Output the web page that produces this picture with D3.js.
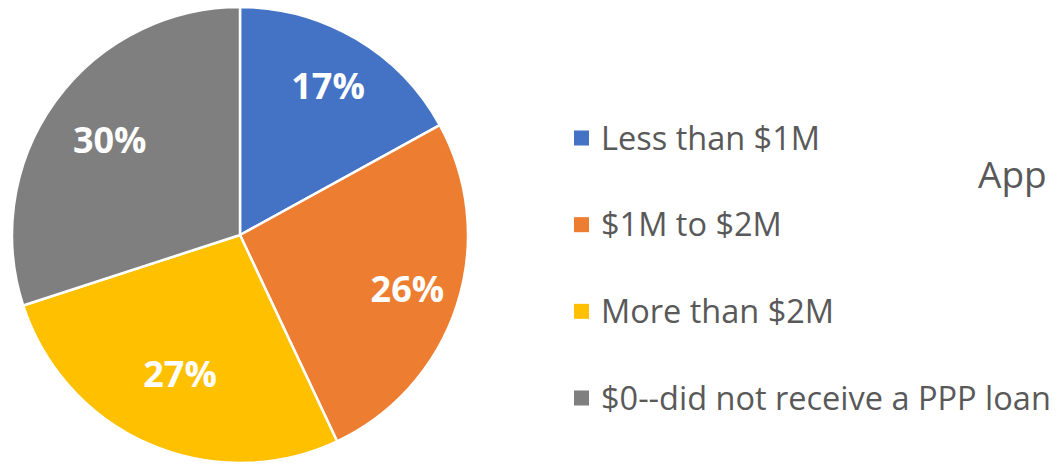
<!DOCTYPE html>
<html>
  <head>
    <meta charset="utf-8">
    <title>PPP loans</title>
    <script src="https://d3js.org/d3.v7.min.js"></script>
    <style>
      body { margin: 0; background: #fff; overflow: hidden; }
      text { font-family: "Open Sans", sans-serif; }
    </style>
  </head>
  <body>
    <svg id="chart" width="1057" height="465"></svg>
    <script>
      // chart data
      var categories = ["Less than $1M", "$1M to $2M", "More than $2M", "$0--did not receive a PPP loan"];
      var shares = [17, 26, 27, 30];
      var colours = ["#4472C4", "#ED7D31", "#FFC000", "#7F7F7F"];
      var title = "App";

      var chart = d3.select("#chart");
      var cx = 240, cy = 235, radius = 228;
      // excel's "best fit" puts each label at a slightly different distance
      var labelRadius = [173, 176, 151, 161];

      var data = categories.map(function(c, i) { return { name: c, value: shares[i], colour: colours[i] }; });

      var pie = d3.pie()
        .sort(null)
        .value(function(d) { return d.value; });
      var arc = d3.arc().innerRadius(0).outerRadius(radius);

      var pieGroup = chart.append("g")
        .attr("transform", "translate(" + cx + "," + cy + ")");

      var slices = pieGroup.selectAll(".slice")
        .data(pie(data))
        .enter().append("g")
          .attr("class", "slice");

      slices.append("path")
        .attr("d", arc)
        .attr("fill", function(d) { return d.data.colour; })
        .attr("stroke", "#fff")
        .attr("stroke-width", 2.5)
        .attr("stroke-linejoin", "round");

      slices.append("text")
        .attr("transform", function(d, i) {
          var r = labelRadius[i];
          return "translate(" + d3.arc().innerRadius(r).outerRadius(r).centroid(d) + ")";
        })
        .attr("text-anchor", "middle")
        .attr("dy", "0.36em")
        .attr("fill", "#fff")
        .style("font-size", "36px")
        .style("font-weight", "bold")
        .text(function(d) { return d.data.value + "%"; });

      // legend
      var legendY = d3.scalePoint()
        .domain(categories)
        .range([138, 398]);

      var legend = chart.append("g")
        .selectAll(".item")
        .data(data)
        .enter().append("g")
          .attr("class", "item")
          .attr("transform", function(d) { return "translate(574," + legendY(d.name) + ")"; });

      legend.append("rect")
        .attr("x", 0)
        .attr("y", -7.5)
        .attr("width", 15)
        .attr("height", 15)
        .attr("fill", function(d) { return d.colour; });

      legend.append("text")
        .attr("x", 27)
        .attr("dy", "0.36em")
        .attr("fill", "#595959")
        .style("font-size", "32.5px")
        .text(function(d) { return d.name; });

      // title, cut off at the right edge
      chart.append("text")
        .attr("x", 978)
        .attr("y", 188)
        .attr("fill", "#595959")
        .style("font-size", "37px")
        .text(title);
    </script>
  </body>
</html>
